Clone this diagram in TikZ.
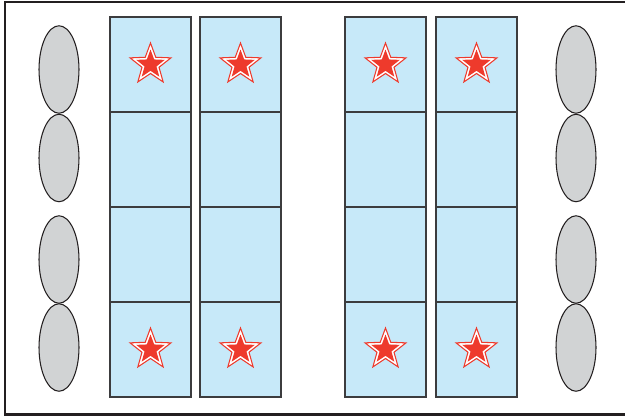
\documentclass[tikz,border=0pt]{standalone}
\usepackage{tikz}
\usetikzlibrary{shapes.geometric}
\definecolor{cellblue}{RGB}{199,233,249}
\definecolor{podgray}{RGB}{209,211,212}
\definecolor{starred}{RGB}{238,58,44}
\definecolor{framegray}{RGB}{35,31,32}
\definecolor{linegray}{RGB}{60,60,62}

\begin{document}
\begin{tikzpicture}[
        x=0.02cm, y=-0.02cm,
        cell/.style={draw=linegray, line width=0.8pt, fill=cellblue,
          minimum width=1.62cm, minimum height=1.9cm, inner sep=0pt},
        pod/.style={ellipse, draw=framegray, line width=0.6pt, fill=podgray,
          minimum width=0.8cm, minimum height=1.75cm, inner sep=0pt},
        starrim/.style={star, star points=5, star point ratio=2.4,
          draw=starred, line width=0.6pt, fill=white, minimum size=0.86cm, inner sep=0pt},
        starcore/.style={star, star points=5, star point ratio=2.4,
          fill=starred, minimum size=0.6cm, inner sep=0pt}
      ]
        \useasboundingbox (0,0) rectangle (625,417);
        \draw[framegray, line width=1.4pt] (627,2) -- (5,2) -- (5,414.5) -- (627,414.5);

        % seats, four columns of four
        \foreach \cx [count=\c] in {150.5,240.5,385.5,476.5} {
          \foreach \r in {1,...,4} {
            \node[cell] (c\c-\r) at (\cx,{17+95*(\r-0.5)}) {};
          }
          \node[starrim] (rt\c) at (c\c-1) {};
          \node[starcore] (ct\c) at (c\c-1) {};
          \node[starrim] (rb\c) at (c\c-4) {};
          \node[starcore] (cb\c) at (c\c-4) {};
        }

        % side pods
        \foreach \py [count=\p] in {69.5,158,259.5,347.5} {
          \node[pod] (pl\p) at (59,\py) {};
          \node[pod] (pr\p) at (576,\py) {};
        }
      \end{tikzpicture}
\end{document}
